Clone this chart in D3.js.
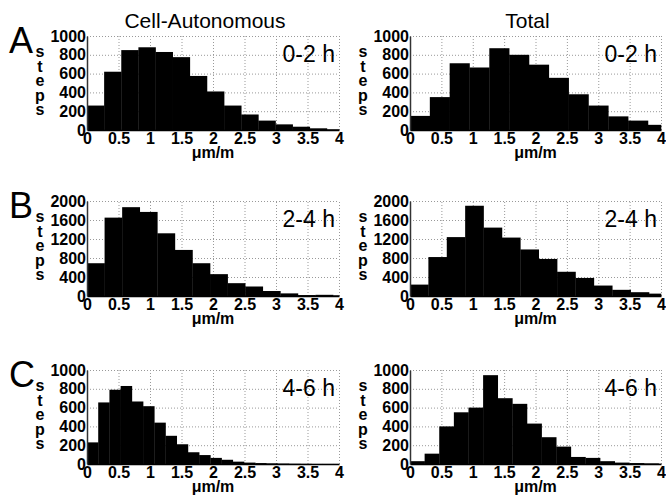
<!DOCTYPE html>
<meta charset="utf-8">
<style>
  body { margin: 0; background: #fff; }
  svg text { font-family: "Liberation Sans", Arial, Helvetica, sans-serif; fill: #000; }
  .tick text { font-weight: bold; font-size: 16px; }
  .grid line { stroke: #999; stroke-dasharray: 1,2; }
  .grid .domain { display: none; }
</style>
<body>
<script src="https://cdn.jsdelivr.net/npm/d3@7"></script>
<script>
var width = 666, height = 496;

// chart data
var columns = ["Cell-Autonomous", "Total"];
var rowLetters = ["A", "B", "C"];
var timeLabels = ["0-2 h", "2-4 h", "4-6 h"];
var xTicks = [0, 0.5, 1, 1.5, 2, 2.5, 3, 3.5, 4];
var yMax = [1000, 2000, 1000];
var yTicksSmall = [0, 200, 400, 600, 800, 1000];
var yTicksLarge = [0, 400, 800, 1200, 1600, 2000];
var xLabel = "\u03bcm/m";
var yLabel = "steps";

// histogram bin widths (um/m) per row, [cell-autonomous, total]
var binWidths = [[0.272, 0.316], [0.279, 0.293], [0.178, 0.233]];

// counts per bin, starting at 0
var cell02 = [260, 620, 850, 880, 830, 775, 575, 410, 260, 165, 100, 60, 35, 18, 8];
var total02 = [150, 350, 710, 665, 870, 800, 695, 555, 380, 260, 145, 100, 55];
var cell24 = [690, 1650, 1870, 1770, 1320, 970, 690, 460, 270, 200, 105, 55, 20, 25, 15];
var total24 = [240, 820, 1240, 1900, 1440, 1230, 980, 780, 510, 380, 220, 130, 80, 50];
var cell46 = [230, 655, 790, 830, 665, 615, 440, 300, 210, 125, 95, 65, 45, 25, 15, 10, 7, 5, 3, 2, 1, 1, 1];
var total46 = [30, 110, 400, 550, 600, 945, 700, 640, 430, 285, 185, 75, 65, 30, 15, 10, 7, 3];

var counts = [[cell02, total02], [cell24, total24], [cell46, total46]];

// layout
var colLeft = [87, 410], colRight = [339, 661];
var rowTop = [36, 201, 370], rowBottom = [130, 296, 464];

var svg = d3.select("body").append("svg")
  .attr("width", width)
  .attr("height", height);

// column titles
columns.forEach(function(t, c) {
  svg.append("text")
    .attr("x", (colLeft[c] + colRight[c]) / 2 - 8)
    .attr("y", 28)
    .attr("text-anchor", "middle")
    .style("font-size", "21px")
    .text(t);
});

rowLetters.forEach(function(letter, r) {
  svg.append("text")
    .attr("x", 9)
    .attr("y", rowTop[r] + 17)
    .style("font-size", "36px")
    .text(letter);

  columns.forEach(function(col, c) {
    var x = d3.scaleLinear().domain([0, 4]).range([colLeft[c], colRight[c]]);
    var y = d3.scaleLinear().domain([0, yMax[r]]).range([rowBottom[r], rowTop[r]]);
    var yTicks = yMax[r] > 1000 ? yTicksLarge : yTicksSmall;
    var h = rowBottom[r] - rowTop[r];
    var w = colRight[c] - colLeft[c];

    var g = svg.append("g");

    // dotted grid
    g.append("g").attr("class", "grid")
      .attr("transform", "translate(0," + rowBottom[r] + ")")
      .call(d3.axisBottom(x).tickValues(xTicks.slice(1)).tickSize(-h).tickFormat(""));
    g.append("g").attr("class", "grid")
      .attr("transform", "translate(" + colLeft[c] + ",0)")
      .call(d3.axisLeft(y).tickValues(yTicks.slice(1)).tickSize(-w).tickFormat(""));

    // bars
    var bw = binWidths[r][c];
    var bins = counts[r][c].map(function(v, i) {
      return { x0: i * bw, x1: Math.min((i + 1) * bw, 4), v: v };
    }).filter(function(d) { return d.x0 < 4; });

    g.selectAll("rect.bar")
      .data(bins)
      .enter()
      .append("rect")
      .attr("class", "bar")
      .attr("x", function(d) { return x(d.x0); })
      .attr("width", function(d) { return x(d.x1) - x(d.x0) + 0.3; })
      .attr("y", function(d) { return y(d.v); })
      .attr("height", function(d) { return y(0) - y(d.v); })
      .style("fill", "#000");

    // axes
    var xa = g.append("g")
      .attr("transform", "translate(0," + rowBottom[r] + ")")
      .call(d3.axisBottom(x).tickValues(xTicks).tickSize(0).tickPadding(3).tickFormat(d3.format("")));
    xa.select(".domain").style("stroke", "#000").style("stroke-width", 1.5);

    var ya = g.append("g")
      .attr("transform", "translate(" + colLeft[c] + ",0)")
      .call(d3.axisLeft(y).tickValues(yTicks).tickSize(0).tickPadding(1).tickFormat(d3.format("d")));
    ya.select(".domain").style("stroke", "#333").style("stroke-width", 1.5);

    // time label
    g.append("text")
      .attr("x", colRight[c] - 4)
      .attr("y", rowTop[r] + 26)
      .attr("text-anchor", "end")
      .style("font-size", "23px")
      .text(timeLabels[r]);

    // x label
    g.append("text")
      .attr("x", (colLeft[c] + colRight[c]) / 2)
      .attr("y", rowBottom[r] + 28)
      .attr("text-anchor", "middle")
      .style("font-size", "16px")
      .style("font-weight", "bold")
      .text(xLabel);

    // stacked y label
    var yl = g.append("text")
      .attr("text-anchor", "middle")
      .style("font-size", "16px")
      .style("font-weight", "bold");
    yLabel.split("").forEach(function(ch, i) {
      yl.append("tspan")
        .attr("x", colLeft[c] - 47)
        .attr("y", rowTop[r] + 21 + i * 14.5)
        .text(ch);
    });
  });
});
</script>
